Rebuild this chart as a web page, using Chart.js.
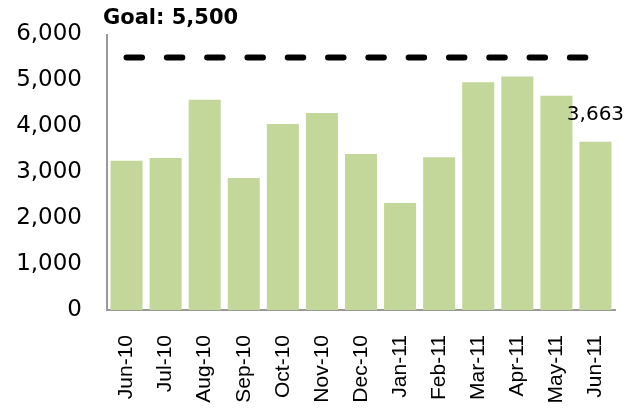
<!DOCTYPE html>
<html>
<head>
<meta charset="utf-8">
<script src="https://cdn.jsdelivr.net/npm/chart.js@4"></script>
<style>
  html, body { margin: 0; padding: 0; background: #fff; }
  #wrap { width: 637px; height: 410px; position: relative; }
</style>
</head>
<body>
<div id="wrap"><canvas id="c" width="637" height="410"></canvas></div>
<script>
const categories = ["Jun-10","Jul-10","Aug-10","Sep-10","Oct-10","Nov-10","Dec-10","Jan-11","Feb-11","Mar-11","Apr-11","May-11","Jun-11"];
const values = [3250, 3310, 4580, 2875, 4050, 4290, 3400, 2330, 3325, 4960, 5085, 4665, 3663];
const goalValue = 5500;
const goalLabel = "Goal: 5,500";
const yTickValues = [0, 1000, 2000, 3000, 4000, 5000, 6000];

const fmt = v => v.toLocaleString('en-US');

const labelPlugin = {
  id: 'customLabels',
  afterDatasetsDraw(chart) {
    const ctx = chart.ctx;
    ctx.save();
    ctx.fillStyle = '#000';
    ctx.textBaseline = 'middle';
    ctx.font = 'bold 21px "DejaVu Sans"';
    ctx.textAlign = 'left';
    ctx.fillText(goalLabel, chart.chartArea.left - 4, 19);
    const meta = chart.getDatasetMeta(1);
    const bar = meta.data[meta.data.length - 1];
    ctx.font = '20px "DejaVu Sans"';
    ctx.textAlign = 'center';
    ctx.fillText(fmt(values[values.length - 1]), bar.x, bar.y - 27);
    ctx.restore();
  }
};

new Chart(document.getElementById('c'), {
  type: 'bar',
  data: {
    labels: categories,
    datasets: [
      {
        type: 'line',
        data: categories.map(() => goalValue),
        borderColor: '#000',
        borderWidth: 6,
        borderDash: [15.5, 24.8],
        borderCapStyle: 'round',
        pointRadius: 0,
        fill: false,
        order: 0
      },
      {
        type: 'bar',
        data: values,
        backgroundColor: '#c4d79b',
        borderWidth: 0,
        barPercentage: 0.82,
        categoryPercentage: 1,
        order: 1
      }
    ]
  },
  plugins: [labelPlugin],
  options: {
    responsive: false,
    animation: false,
    layout: { padding: { top: 34.5, right: 22, left: 0, bottom: 0 } },
    plugins: { legend: { display: false }, tooltip: { enabled: false } },
    scales: {
      x: {
        grid: { display: false, drawTicks: false },
        border: { display: true, color: '#999', width: 2 },
        ticks: {
          autoSkip: false, minRotation: 90, maxRotation: 90, padding: 25,
          color: '#000', font: { family: '"Liberation Sans", Arial, sans-serif', size: 21 }
        },
        afterFit(scale) {
          scale.height = 100;
          scale.paddingLeft = 0;
          scale.paddingRight = 0;
        }
      },
      y: {
        min: 0, max: 6000,
        grid: { display: false, drawTicks: false },
        border: { display: true, color: '#999', width: 2 },
        afterBuildTicks(scale) { scale.ticks = yTickValues.map(v => ({ value: v })); },
        ticks: {
          padding: 25, color: '#000',
          font: { family: '"DejaVu Sans"', size: 23 },
          callback: v => fmt(v)
        },
        afterFit(scale) {
          scale.width = 107;
          scale.paddingTop = 0;
          scale.paddingBottom = 0;
        }
      }
    }
  }
});
</script>
</body>
</html>
